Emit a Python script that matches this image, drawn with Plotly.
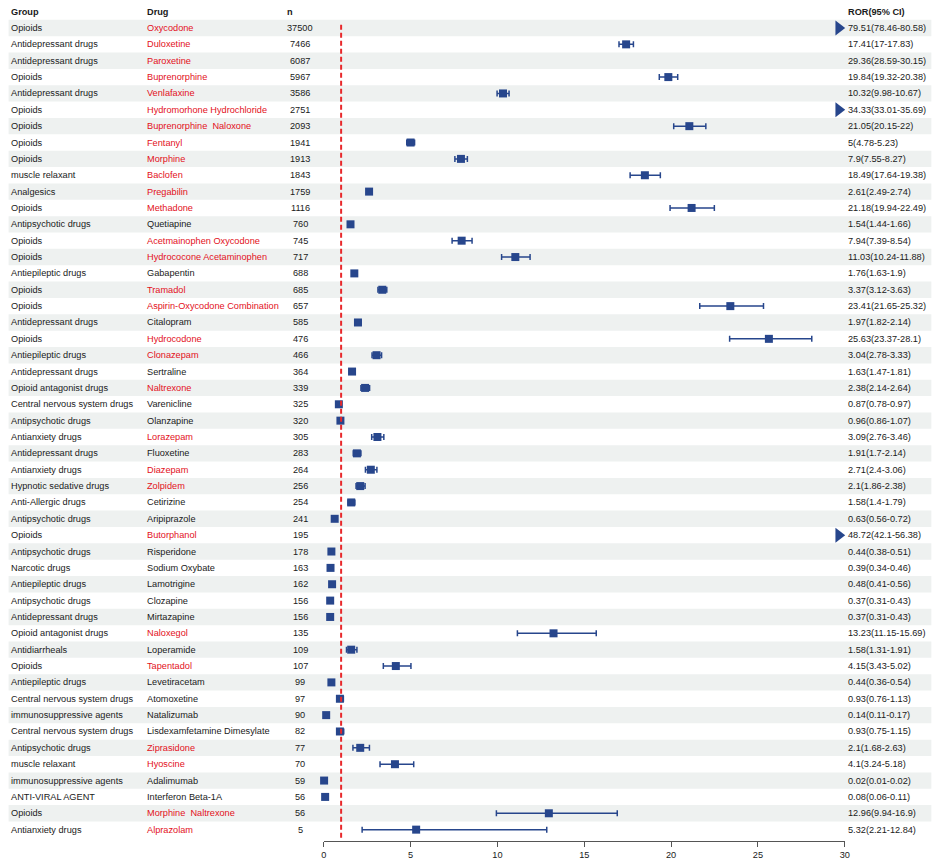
import plotly.graph_objects as go

# table columns
groups = [
    "Opioids", "Antidepressant drugs", "Antidepressant drugs", "Opioids", "Antidepressant drugs",
    "Opioids", "Opioids", "Opioids", "Opioids", "muscle relaxant",
    "Analgesics", "Opioids", "Antipsychotic drugs", "Opioids", "Opioids",
    "Antiepileptic drugs", "Opioids", "Opioids", "Antidepressant drugs", "Opioids",
    "Antiepileptic drugs", "Antidepressant drugs", "Opioid antagonist drugs", "Central nervous system drugs", "Antipsychotic drugs",
    "Antianxiety drugs", "Antidepressant drugs", "Antianxiety drugs", "Hypnotic sedative drugs", "Anti-Allergic drugs",
    "Antipsychotic drugs", "Opioids", "Antipsychotic drugs", "Narcotic drugs", "Antiepileptic drugs",
    "Antipsychotic drugs", "Antidepressant drugs", "Opioid antagonist drugs", "Antidiarrheals", "Opioids",
    "Antiepileptic drugs", "Central nervous system drugs", "immunosuppressive agents", "Central nervous system drugs", "Antipsychotic drugs",
    "muscle relaxant", "immunosuppressive agents", "ANTI-VIRAL AGENT", "Opioids", "Antianxiety drugs",
]
drugs = [
    "Oxycodone", "Duloxetine", "Paroxetine", "Buprenorphine", "Venlafaxine",
    "Hydromorhone Hydrochloride", "Buprenorphine\u00a0 Naloxone", "Fentanyl", "Morphine", "Baclofen",
    "Pregabilin", "Methadone", "Quetiapine", "Acetmainophen Oxycodone", "Hydrococone Acetaminophen",
    "Gabapentin", "Tramadol", "Aspirin-Oxycodone Combination", "Citalopram", "Hydrocodone",
    "Clonazepam", "Sertraline", "Naltrexone", "Varenicline", "Olanzapine",
    "Lorazepam", "Fluoxetine", "Diazepam", "Zolpidem", "Cetirizine",
    "Aripiprazole", "Butorphanol", "Risperidone", "Sodium Oxybate", "Lamotrigine",
    "Clozapine", "Mirtazapine", "Naloxegol", "Loperamide", "Tapentadol",
    "Levetiracetam", "Atomoxetine", "Natalizumab", "Lisdexamfetamine Dimesylate", "Ziprasidone",
    "Hyoscine", "Adalimumab", "Interferon Beta-1A", "Morphine\u00a0 Naltrexone", "Alprazolam",
]
n_cases = [
    37500, 7466, 6087, 5967, 3586, 2751, 2093, 1941, 1913, 1843,
    1759, 1116, 760, 745, 717, 688, 685, 657, 585, 476,
    466, 364, 339, 325, 320, 305, 283, 264, 256, 254,
    241, 195, 178, 163, 162, 156, 156, 135, 109, 107,
    99, 97, 90, 82, 77, 70, 59, 56, 56, 5,
]
ror = [
    79.51, 17.41, 29.36, 19.84, 10.32, 34.33, 21.05, 5, 7.9, 18.49,
    2.61, 21.18, 1.54, 7.94, 11.03, 1.76, 3.37, 23.41, 1.97, 25.63,
    3.04, 1.63, 2.38, 0.87, 0.96, 3.09, 1.91, 2.71, 2.1, 1.58,
    0.63, 48.72, 0.44, 0.39, 0.48, 0.37, 0.37, 13.23, 1.58, 4.15,
    0.44, 0.93, 0.14, 0.93, 2.1, 4.1, 0.02, 0.08, 12.96, 5.32,
]
ci_low = [
    78.46, 17, 28.59, 19.32, 9.98, 33.01, 20.15, 4.78, 7.55, 17.64,
    2.49, 19.94, 1.44, 7.39, 10.24, 1.63, 3.12, 21.65, 1.82, 23.37,
    2.78, 1.47, 2.14, 0.78, 0.86, 2.76, 1.7, 2.4, 1.86, 1.4,
    0.56, 42.1, 0.38, 0.34, 0.41, 0.31, 0.31, 11.15, 1.31, 3.43,
    0.36, 0.76, 0.11, 0.75, 1.68, 3.24, 0.01, 0.06, 9.94, 2.21,
]
ci_high = [
    80.58, 17.83, 30.15, 20.38, 10.67, 35.69, 22, 5.23, 8.27, 19.38,
    2.74, 22.49, 1.66, 8.54, 11.88, 1.9, 3.63, 25.32, 2.14, 28.1,
    3.33, 1.81, 2.64, 0.97, 1.07, 3.46, 2.14, 3.06, 2.38, 1.79,
    0.72, 56.38, 0.51, 0.46, 0.56, 0.43, 0.43, 15.69, 1.91, 5.02,
    0.54, 1.13, 0.17, 1.15, 2.63, 5.18, 0.02, 0.11, 16.9, 12.84,
]
# 1 = drug name shown in red
signal = [
    1, 1, 1, 1, 1, 1, 1, 1, 1, 1,
    1, 1, 0, 1, 1, 0, 1, 1, 0, 1,
    1, 0, 1, 0, 0, 1, 0, 1, 1, 0,
    0, 1, 0, 0, 0, 0, 0, 1, 0, 1,
    0, 0, 0, 0, 1, 1, 0, 0, 1, 1,
]
x_ticks = [0, 5, 10, 15, 20, 25, 30]
x_max = 30

BLUE = "#27468c"
RED_TXT = "#e3101b"
FONT = "Liberation Sans, Arial, sans-serif"
rows = list(range(len(drugs)))

fig = go.Figure()

# rows with CI inside the axis -> square + CI
ix = [i for i in rows if ci_high[i] <= x_max]
fig.add_trace(go.Scatter(
    x=[ror[i] for i in ix], y=ix, mode="markers",
    marker=dict(symbol="square", size=8, color=BLUE),
    error_x=dict(type="data", symmetric=False,
                 array=[ci_high[i] - ror[i] for i in ix],
                 arrayminus=[ror[i] - ci_low[i] for i in ix],
                 color=BLUE, thickness=1.5, width=3),
    cliponaxis=False, showlegend=False, hoverinfo="skip",
))
# estimate beyond the axis -> arrow just inside the edge
ia = [i for i in rows if ror[i] > x_max]
fig.add_trace(go.Scatter(
    x=[x_max - 0.35] * len(ia), y=ia, mode="markers",
    marker=dict(symbol="triangle-right", size=13, color=BLUE),
    cliponaxis=False, showlegend=False, hoverinfo="skip",
))

# stripes
for i in rows:
    if i % 2 == 0:
        fig.add_shape(type="rect", xref="paper", yref="y", x0=0.006, x1=0.995,
                      y0=i - 0.5, y1=i + 0.5, fillcolor="#eef1f0", line_width=0, layer="below")

# reference line at ROR = 1
fig.add_shape(type="line", xref="x", yref="y", x0=1, x1=1, y0=-0.2, y1=len(drugs) - 0.5,
              line=dict(color="#e8282b", width=2, dash="5px,3px"), layer="above")

W = 941.0
col_group, col_drug, col_n, col_ror = 7 / W, 144 / W, 300 / W, 851 / W
fs = 9.2

def txt(x, y, s, color="#1a1a1a", anchor="left", bold=False):
    fig.add_annotation(x=x, y=y, xref="paper", yref="y", text=f"<b>{s}</b>" if bold else s,
                       showarrow=False, xanchor=anchor, yanchor="middle", borderpad=0,
                       font=dict(family=FONT, size=fs, color=color))

hy = -1.0
txt(col_group, hy, "Group", bold=True)
txt(col_drug, hy, "Drug", bold=True)
txt(285 / W, hy, "n", bold=True)
txt(col_ror, hy, "ROR(95% CI)", bold=True)

for i in rows:
    txt(col_group, i, groups[i])
    txt(col_drug, i, drugs[i], color=RED_TXT if signal[i] else "#1a1a1a")
    txt(col_n, i, str(n_cases[i]), anchor="center")
    txt(col_ror, i, f"{ror[i]:g}({ci_low[i]:g}-{ci_high[i]:g})")

px_row0, px_step, px_axis = 28.0, 16.36, 841.0
fig.update_layout(
    width=941, height=862,
    margin=dict(l=0, r=0, t=0, b=862 - px_axis),
    plot_bgcolor="white", paper_bgcolor="white",
    font=dict(family=FONT, size=fs, color="#1a1a1a"),
    xaxis=dict(domain=[323.5 / W, 849 / W], range=[0, x_max], tickvals=x_ticks,
               showgrid=False, zeroline=False, showline=True, linecolor="#555", linewidth=1,
               ticks="outside", ticklen=5, tickcolor="#555", tickfont=dict(size=fs)),
    yaxis=dict(range=[(px_axis - px_row0) / px_step, -px_row0 / px_step], visible=False),
)

fig.write_html("out.html", config={"displayModeBar": False},
               post_script="document.body.style.margin='0';")
